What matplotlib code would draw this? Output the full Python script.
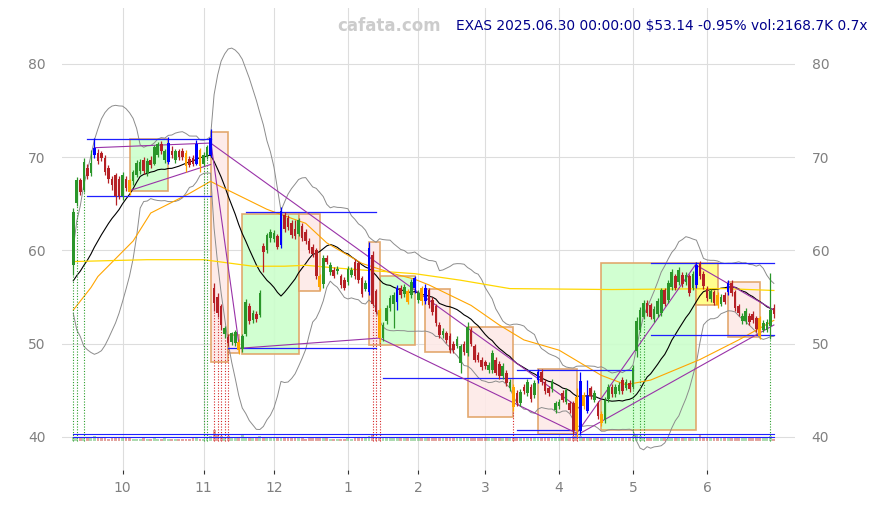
import numpy as np
import pandas as pd
import matplotlib
matplotlib.use("Agg")
import matplotlib.pyplot as plt
from matplotlib.patches import Rectangle

# trading days shown
holidays = ["2024-11-28", "2024-12-25", "2025-01-01", "2025-01-09", "2025-01-20",
            "2025-02-17", "2025-04-18", "2025-05-26", "2025-06-19"]
dates = pd.bdate_range("2024-09-11", "2025-06-30", freq="C", holidays=holidays)

opens = [
    58.4, 65.1, 67.5, 66.5, 68.8, 68.3, 70.2, 70.4, 70.4, 69.9, 68.8, 67.6, 68.1, 67.7,
    65.8, 67.7, 67.5, 67.4, 68.1, 68.5, 69.7, 68.3, 69.7, 69.3, 70.2, 71.4, 69.7, 69.5, 70.7, 69.7, 70.6, 70.7, 70.4, 69.8, 69.9, 69.3, 70.8,
    69.3, 70.0, 70.2, 56.0, 55.0, 54.0, 51.0, 50.7, 50.2, 50.1, 50.2, 49.4, 51.0, 54.0, 52.5, 53.2, 53.1, 60.5, 60.0, 61.3,
    61.2, 61.5, 60.6, 63.8, 63.5, 62.9, 62.3, 61.8, 62.6, 62.0, 61.0, 60.4, 60.0, 57.2, 56.4, 59.2, 57.7, 57.9, 57.8, 57.2, 56.8,
    56.6, 57.4, 58.8, 58.6, 57.0, 55.9, 55.5, 59.5, 55.6, 53.6, 50.6, 52.4, 53.8, 54.3, 54.5, 56.0, 55.3, 55.6, 55.2, 56.0,
    54.7, 56.0, 54.6, 55.7, 54.7, 54.0, 52.0, 50.9, 51.1, 50.8, 50.0, 49.8, 47.9, 50.0, 49.0, 51.5, 49.7, 48.8, 48.3,
    48.0, 47.2, 47.2, 48.3, 47.8, 46.5, 46.9, 45.2, 45.4, 44.7, 43.6, 45.4, 44.7, 45.4, 44.5, 46.1, 47.0, 45.9, 45.2, 45.1, 42.9,
    43.3, 44.7, 43.8, 43.6, 43.6, 44.3, 40.6, 44.5, 42.8, 45.2, 44.0, 43.6, 42.5, 41.8, 44.1, 45.4, 44.6, 44.9, 46.1, 45.3, 45.8,
    45.4, 49.2, 51.5, 52.9, 54.4, 54.1, 52.6, 53.2, 53.3, 55.7, 54.7, 56.1, 57.2, 56.6, 57.4, 56.6, 57.2, 56.0, 56.3, 58.6, 57.5,
    55.9, 54.8, 55.5, 55.2, 54.3, 55.2, 55.5, 56.5, 55.5, 54.0, 52.4, 52.4, 53.0, 53.2, 52.7, 52.7, 51.5, 51.5, 51.9, 53.8,
]
highs = [
    64.5, 67.9, 67.8, 69.9, 69.3, 70.8, 72.0, 70.9, 70.7, 70.2, 69.1, 68.0, 68.3, 68.0,
    68.4, 68.0, 67.7, 68.6, 69.7, 69.8, 70.0, 69.9, 70.1, 71.3, 71.6, 71.7, 70.9, 72.1, 71.2, 70.9, 70.9, 71.0, 70.8, 70.1, 70.2, 71.8, 71.0,
    70.5, 71.3, 73.0, 56.5, 55.4, 54.3, 51.9, 51.0, 51.3, 51.5, 50.5, 51.0, 54.8, 54.4, 53.6, 53.5, 55.7, 60.8, 61.9, 62.3,
    62.2, 61.8, 64.6, 64.1, 63.8, 63.2, 63.3, 63.5, 62.9, 62.3, 61.3, 60.7, 60.3, 57.5, 59.5, 59.5, 58.7, 58.2, 58.3, 57.5, 57.1,
    58.3, 58.2, 59.1, 58.9, 57.3, 56.8, 60.9, 59.9, 55.9, 53.8, 52.3, 54.1, 55.2, 55.5, 56.3, 56.3, 56.4, 55.9, 56.9, 57.3,
    55.7, 56.2, 56.4, 56.0, 55.0, 54.3, 52.3, 51.7, 51.4, 51.1, 50.3, 50.8, 50.0, 50.3, 52.3, 51.8, 50.0, 49.1, 48.6,
    48.3, 48.0, 49.3, 48.6, 48.1, 47.9, 47.2, 46.2, 45.7, 45.0, 45.1, 45.7, 46.2, 45.7, 46.1, 47.3, 47.3, 46.2, 45.5, 46.2, 43.9,
    44.1, 45.0, 45.3, 43.9, 43.9, 45.2, 47.0, 44.8, 46.1, 45.5, 45.0, 43.9, 42.8, 44.3, 45.7, 45.7, 45.7, 45.9, 46.4, 46.2, 46.1,
    47.7, 52.9, 53.9, 54.7, 54.7, 54.4, 54.0, 54.9, 56.0, 56.0, 56.8, 58.0, 57.5, 58.2, 57.7, 57.7, 57.5, 57.8, 58.8, 58.9, 57.8,
    56.2, 55.9, 55.8, 55.5, 55.3, 55.5, 56.8, 56.8, 55.8, 54.3, 53.3, 53.8, 53.3, 53.5, 53.0, 53.0, 52.5, 52.6, 57.6, 54.2,
]
lows = [
    57.4, 64.7, 65.9, 66.2, 67.7, 68.0, 69.9, 69.3, 69.6, 68.1, 67.2, 66.5, 64.9, 65.5,
    65.4, 66.4, 65.9, 67.0, 67.9, 68.2, 68.2, 68.0, 68.8, 69.1, 70.0, 70.3, 69.4, 69.3, 69.9, 69.4, 69.7, 69.7, 68.4, 68.9, 69.0, 69.1, 68.4,
    69.0, 69.8, 70.0, 53.5, 52.9, 51.5, 50.6, 49.8, 49.9, 49.8, 48.9, 49.1, 50.8, 52.1, 52.2, 52.3, 52.9, 57.7, 59.7, 60.9,
    60.9, 60.1, 60.3, 62.0, 62.2, 61.3, 61.2, 61.5, 61.0, 60.7, 59.7, 59.3, 56.9, 55.8, 56.0, 58.5, 57.4, 57.0, 57.5, 56.0, 55.7,
    56.3, 57.1, 56.9, 56.5, 55.0, 55.6, 55.2, 54.0, 53.2, 50.2, 50.3, 52.1, 53.5, 51.7, 53.6, 54.9, 55.0, 54.3, 54.9, 55.4,
    54.4, 54.1, 54.3, 53.8, 53.1, 51.9, 50.6, 50.6, 50.1, 49.0, 49.0, 49.5, 46.9, 48.8, 48.7, 49.7, 48.0, 48.0, 47.2,
    47.3, 46.9, 46.9, 46.6, 46.2, 46.2, 45.5, 44.9, 42.8, 43.3, 43.3, 44.6, 44.4, 43.8, 44.2, 45.8, 45.6, 44.6, 44.4, 44.8, 42.6,
    43.0, 43.7, 43.5, 42.6, 40.3, 40.0, 40.2, 43.0, 42.6, 44.1, 43.7, 41.9, 41.2, 41.5, 43.8, 44.3, 44.3, 44.6, 44.6, 45.0, 44.8,
    45.1, 48.6, 51.2, 52.6, 53.0, 52.6, 52.3, 52.9, 53.0, 54.0, 54.4, 55.8, 55.7, 56.3, 56.1, 56.3, 55.1, 55.7, 56.0, 56.9, 55.9,
    54.6, 54.5, 54.1, 53.8, 54.0, 54.2, 55.2, 55.1, 53.5, 53.0, 52.1, 52.1, 52.0, 52.2, 51.3, 50.5, 51.2, 51.2, 50.5, 52.8,
]
closes = [
    64.1, 67.5, 66.3, 69.5, 68.0, 69.4, 71.0, 69.6, 69.9, 68.4, 67.7, 67.0, 65.8, 65.8,
    68.1, 66.7, 66.3, 68.4, 69.4, 69.5, 68.5, 69.6, 69.1, 71.1, 71.4, 70.6, 70.7, 71.5, 70.2, 70.7, 70.0, 70.0, 69.0, 69.2, 69.3, 71.4, 69.0,
    70.2, 71.1, 72.0, 54.4, 53.3, 52.0, 51.7, 50.1, 51.1, 51.3, 49.3, 50.8, 54.5, 52.4, 53.3, 52.6, 55.4, 59.8, 61.6, 62.0,
    61.9, 60.4, 64.2, 62.3, 62.5, 61.6, 61.5, 63.2, 61.3, 61.0, 60.0, 59.6, 57.2, 56.1, 59.2, 58.8, 58.4, 57.3, 58.0, 56.3, 56.0,
    58.0, 57.9, 57.2, 56.8, 55.3, 56.5, 60.2, 54.3, 53.4, 50.6, 52.0, 53.8, 54.9, 55.2, 56.0, 55.2, 56.1, 54.5, 56.6, 57.0,
    55.4, 54.6, 56.0, 54.1, 53.4, 52.2, 50.9, 51.4, 50.4, 49.3, 49.3, 50.5, 49.7, 49.1, 51.8, 50.0, 48.3, 48.3, 47.5,
    47.6, 47.7, 49.0, 46.9, 46.5, 47.6, 45.8, 45.9, 43.2, 43.6, 44.8, 44.9, 45.9, 44.1, 45.8, 47.0, 45.9, 44.9, 44.7, 45.9, 43.6,
    43.8, 44.0, 45.0, 42.9, 40.8, 40.6, 46.0, 43.3, 44.4, 44.4, 44.7, 42.2, 41.5, 44.0, 45.4, 44.6, 45.4, 45.6, 44.9, 45.9, 45.1,
    47.4, 52.4, 53.6, 54.4, 53.3, 52.9, 53.7, 54.6, 55.7, 54.3, 56.5, 57.7, 56.0, 57.9, 56.4, 57.4, 55.4, 57.5, 58.4, 57.2, 56.2,
    54.9, 55.6, 54.4, 54.1, 55.0, 54.5, 56.5, 55.4, 53.8, 53.3, 53.0, 53.5, 52.3, 52.5, 51.6, 50.8, 52.2, 52.3, 53.65, 53.14,
]
volumes_k = [
    4200, 3800, 3100, 3600, 3300, 2900, 5200, 3000, 2600, 2800, 2500, 2700, 3400, 3000,
    2900, 2600, 2800, 2500, 2400, 2300, 2600, 2200, 2500, 2700, 2400, 2300, 3100, 2200, 2100, 2300, 2000, 2500, 2200, 2400, 3000, 2600, 2300,
    2400, 2800, 5500, 12500, 7500, 6000, 4800, 5800, 4500, 4200, 4600, 6200, 3800, 3200, 3000, 3500, 5800, 4000, 3500, 3300,
    3000, 3200, 4300, 3400, 3000, 2800, 2700, 2600, 3400, 2500, 2700, 2600, 3200, 4100, 3500, 2800, 2400, 1800, 1900, 2300, 2500,
    2600, 2500, 2700, 2800, 3300, 3200, 5000, 6300, 4200, 4600, 3300, 3100, 3600, 2900, 3000, 2800, 3100, 2700, 3300, 2900,
    2700, 2800, 3000, 3300, 3100, 3400, 3000, 2800, 3200, 2900, 3000, 4500, 3600, 4100, 3300, 3100, 3400, 3200, 3000,
    3200, 2900, 3100, 3300, 3000, 3600, 2800, 3100, 4400, 3500, 3300, 3000, 2900, 3100, 3700, 3200, 3000, 3100, 2800, 3300, 3600,
    3100, 3000, 2900, 3600, 5200, 6100, 5600, 4300, 4500, 3500, 3400, 3300, 3800, 3600, 3100, 3000, 2900, 3200, 3000, 2800, 3900,
    5400, 8200, 5300, 4400, 3700, 3400, 3300, 3500, 3800, 3200, 3400, 3700, 3300, 3100, 3000, 3200, 2900, 3100, 4000, 6500, 3900,
    3500, 3300, 3100, 3600, 3000, 2900, 3700, 3200, 3400, 3000, 2800, 2900, 2700, 3000, 3100, 3800, 3200, 2900, 5300, 2169,
]
# closes before the window (for the 20-day bands)
hist_closes = [56.2, 56.8, 57.3, 56.9, 56.4, 55.9, 56.3, 56.7, 56.1, 55.8,
               56.2, 56.6, 56.0, 55.7, 56.1, 56.5, 56.2, 55.9, 57.0]

# signal candles
blue_idx = [6, 27, 35, 39, 59, 84, 92, 97, 100, 132, 144, 146, 177, 186]
orange_idx = [16, 32, 36, 47, 70, 87, 95, 99, 125, 143, 145, 150, 183, 195]
green_dot_idx = [0, 1, 3, 37, 38, 159, 161, 162, 198]
red_dot_idx = [40, 41, 42, 43, 44, 85, 86, 87, 125, 142, 143]

# slower moving averages
ma_mid_idx = [0, 5, 7, 17, 22, 33, 39, 41, 48, 55, 60, 66, 72, 82, 91, 97, 101, 113, 121, 128, 138, 150, 157, 164, 178, 189, 199]
ma_mid_val = [53.6, 56.0, 57.2, 61.0, 64.0, 66.1, 67.4, 67.0, 65.7, 64.4, 63.7, 62.9, 60.8, 58.6, 57.5, 56.9, 56.3, 54.1, 52.0, 50.4, 49.3, 46.6, 45.6, 46.1, 48.3, 50.4, 52.5]
ma_long_idx = [0, 21, 37, 41, 51, 60, 66, 75, 82, 97, 110, 124, 153, 185, 199]
ma_long_val = [58.8, 59.0, 59.0, 58.8, 58.3, 58.3, 58.4, 58.1, 57.9, 57.5, 56.8, 55.9, 55.8, 55.9, 55.7]

# zones: start idx, end idx, low, high, kind
zone_start = [16, 48, 87, 150, 177, 39, 64, 84, 100, 112, 132, 186, 44]
zone_end = [27, 64, 97, 177, 183, 44, 70, 87, 107, 125, 143, 195, 47]
zone_low = [66.4, 48.9, 49.9, 40.8, 54.1, 48.0, 55.6, 49.9, 49.1, 42.1, 40.3, 50.7, 49.0]
zone_high = [71.9, 63.9, 57.3, 58.6, 58.6, 72.7, 63.9, 60.9, 55.9, 51.8, 47.3, 56.6, 50.9]
zone_kind = ["up", "up", "up", "up", "flat", "down", "down", "down", "down", "down", "down", "down", "down"]

# support / resistance levels
level_start = [4, 4, 49, 44, 88, 126, 126, 164, 164]
level_end = [39, 39, 86, 86, 130, 159, 144, 199, 199]
level_price = [71.9, 65.8, 64.1, 49.5, 46.3, 47.2, 40.7, 58.6, 50.9]

# trend lines
trend_i0 = [6, 16, 39, 39, 47, 87, 143, 144, 177]
trend_p0 = [71.0, 66.4, 71.8, 71.5, 49.5, 50.6, 40.4, 40.4, 58.4]
trend_i1 = [39, 39, 47, 144, 87, 143, 177, 199, 199]
trend_p1 = [71.5, 69.2, 50.1, 43.0, 50.6, 40.4, 58.6, 52.0, 53.6]

vol_ma_levels = [40.28, 40.03]

o = np.array(opens)
h = np.array(highs)
l = np.array(lows)
c = np.array(closes)
v = np.array(volumes_k, dtype=float)
n = len(c)
x = np.arange(n)

allc = pd.Series(hist_closes + closes)
sma = allc.rolling(20).mean().values[-n:]
sd = allc.rolling(20).std(ddof=0).values[-n:]
bb_up = sma + 2 * sd
bb_lo = sma - 2 * sd

fig = plt.figure(figsize=(8.77, 5.05), dpi=100)
ax = fig.add_axes([0.0707, 0.0693, 0.8358, 0.915])

face = {"up": "#ccffcc", "down": "#fde9e7", "flat": "#ffff80"}
for s, e, lo, hi, k in zip(zone_start, zone_end, zone_low, zone_high, zone_kind):
    ax.add_patch(Rectangle((s, lo), e - s, hi - lo, facecolor=face[k], edgecolor="#e0a060",
                           lw=1.2, alpha=0.9, zorder=1))

for s, e, p in zip(level_start, level_end, level_price):
    ax.plot([s, e], [p, p], color="#1f1fff", lw=0.9, zorder=3)

for a, pa, b, pb in zip(trend_i0, trend_p0, trend_i1, trend_p1):
    ax.plot([a, b], [pa, pb], color="#9932a8", lw=0.8, zorder=3)

ax.plot(x, bb_up, color="#8c8c8c", lw=0.7, zorder=2)
ax.plot(x, bb_lo, color="#8c8c8c", lw=0.7, zorder=2)
ax.plot(x, sma, color="black", lw=0.8, zorder=2)
ax.plot(ma_mid_idx, ma_mid_val, color="#ffa500", lw=0.8, zorder=2)
ax.plot(ma_long_idx, ma_long_val, color="#ffd700", lw=0.9, zorder=2)

# volume strip at the bottom
up = c >= o
vol_h = v / v.max() * 1.15
ax.bar(x, vol_h, bottom=39.6, width=0.8,
       color=np.where(up, "#4caf50", "#c0392b"), alpha=0.45, zorder=2)
for lev in vol_ma_levels:
    ax.plot([0, n - 1], [lev, lev], color="#1f1fff", lw=0.8, zorder=3)

for i in green_dot_idx:
    ax.plot([i, i], [39.6, l[i]], color="#2ca02c", lw=0.8, ls=(0, (1, 1.5)), zorder=2)
for i in red_dot_idx:
    ax.plot([i, i], [39.6, l[i]], color="#d62728", lw=0.8, ls=(0, (1, 1.5)), zorder=2)

cols = np.where(up, "#2a962a", "#b52025").astype(object)
cols[blue_idx] = "#0000ff"
cols[orange_idx] = "#ffa500"
ax.vlines(x, l, h, colors=cols, lw=0.9, zorder=4)
body = np.maximum(np.abs(c - o), 0.12)
ax.bar(x, body, bottom=np.minimum(o, c), width=0.75, color=cols, zorder=5)

ax.set_xlim(-3.2, 205)
ax.set_ylim(36.46, 85.98)
for sp in ax.spines.values():
    sp.set_visible(False)
ax.grid(True, color="#dddddd", lw=0.8, zorder=0)
ax.set_axisbelow(True)

d = pd.Series(dates)
month_start = [i for i in range(n) if i > 0 and d[i].month != d[i - 1].month]
ax.set_xticks(month_start)
ax.set_xticklabels([str(d[i].month) for i in month_start])
ax.set_yticks([40, 50, 60, 70, 80])
ax.tick_params(axis="x", length=3, color="#333333", labelcolor="#808080", labelsize=10, pad=5)
ax.tick_params(axis="y", length=0, labelcolor="#808080", labelsize=10,
               labelleft=True, labelright=True, pad=12)

fig.text(389 / 877, 1 - 26 / 505, "cafata.com", color="#cccccc", fontsize=12,
         fontweight="bold", ha="center", va="center")
fig.text(867 / 877, 1 - 26 / 505, "EXAS 2025.06.30 00:00:00 $53.14 -0.95% vol:2168.7K 0.7x",
         color="#00008b", fontsize=9.9, ha="right", va="center")

fig.savefig("out.png", dpi=100)
